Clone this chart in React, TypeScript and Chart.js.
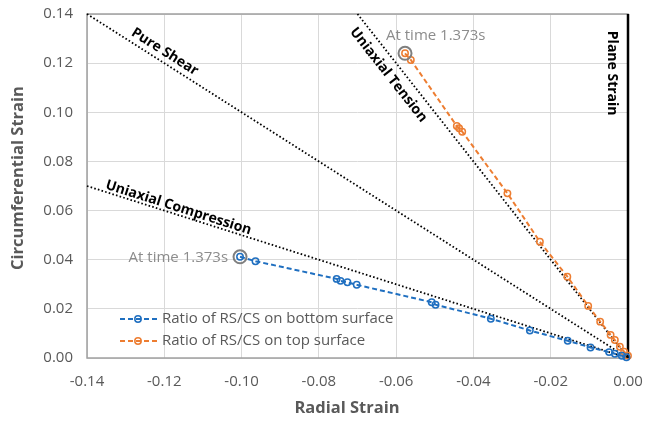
import React, { useEffect, useRef } from "react";
import { Chart, registerables } from "chart.js";

Chart.register(...registerables);

// ---- data ----
const xTickValues = [-0.14, -0.12, -0.1, -0.08, -0.06, -0.04, -0.02, 0];
const yTickValues = [0, 0.02, 0.04, 0.06, 0.08, 0.1, 0.12, 0.14];

const bottomRadial = [-0.1004, -0.0964, -0.0754, -0.0744, -0.0726, -0.0702, -0.0508, -0.0498, -0.0355, -0.0254, -0.0156, -0.0097, -0.0049, -0.0034, -0.0016, -0.0004];
const bottomCircum = [0.0412, 0.0394, 0.0322, 0.0314, 0.0308, 0.0298, 0.0227, 0.0217, 0.016, 0.0112, 0.007, 0.0043, 0.0024, 0.0017, 0.0009, 0.0003];

const topRadial = [-0.0577, -0.0562, -0.0443, -0.0437, -0.0429, -0.0312, -0.0228, -0.0157, -0.0103, -0.0072, -0.0045, -0.0034, -0.0021, -0.001, 0.0];
const topCircum = [0.124, 0.1213, 0.0944, 0.0935, 0.0921, 0.067, 0.0473, 0.0331, 0.0212, 0.0148, 0.0094, 0.0073, 0.0046, 0.0026, 0.0009];

const pureShearRadial = [-0.14, 0];
const pureShearCircum = [0.14, 0];
const uniCompRadial = [-0.14, 0];
const uniCompCircum = [0.07, 0];
const uniTensRadial = [-0.07, 0];
const uniTensCircum = [0.14, 0];
const planeStrainRadial = [0, 0];
const planeStrainCircum = [0.14, 0];

const seriesLabels = ["Ratio of RS/CS on bottom surface", "Ratio of RS/CS on top surface"];
const timeLabel = "At time 1.373s";

const BLUE = "#1f6fc0";
const ORANGE = "#ed7d31";
const GRAY_TEXT = "#595959";
const FONT = "'Open Sans', 'Noto Sans', sans-serif";

const pts = (xs: number[], ys: number[]) => xs.map((x, i) => ({ x, y: ys[i] }));

// line labels: which line, fraction along it, perpendicular pixel offset
const lineLabels = [
  { text: "Pure Shear", xs: pureShearRadial, ys: pureShearCircum, t: 0.134, d: 9.8 },
  { text: "Uniaxial Compression", xs: uniCompRadial, ys: uniCompCircum, t: 0.165, d: 7 },
  { text: "Uniaxial Tension", xs: uniTensRadial, ys: uniTensCircum, t: 0.153, d: -13.3 },
  { text: "Plane Strain", xs: planeStrainRadial, ys: planeStrainCircum, t: 0.172, d: -16 },
];

const annotatePlugin = {
  id: "annotate",
  beforeDatasetsDraw(chart: any) {
    const { ctx, chartArea: a } = chart;
    ctx.save();
    ctx.strokeStyle = "#a0a0a0";
    ctx.lineWidth = 1.5;
    ctx.strokeRect(a.left, a.top, a.right - a.left, a.bottom - a.top);
    ctx.restore();
  },
  afterDatasetsDraw(chart: any) {
    const { ctx, scales } = chart;
    const xs = scales.x;
    const ys = scales.y;
    ctx.save();

    // line labels
    ctx.fillStyle = "#000";
    ctx.font = `bold 14px ${FONT}`;
    ctx.textAlign = "center";
    ctx.textBaseline = "middle";
    for (const L of lineLabels) {
      const px0 = xs.getPixelForValue(L.xs[0]);
      const py0 = ys.getPixelForValue(L.ys[0]);
      const px1 = xs.getPixelForValue(L.xs[1]);
      const py1 = ys.getPixelForValue(L.ys[1]);
      const ang = Math.atan2(py1 - py0, px1 - px0);
      const cx = px0 + L.t * (px1 - px0) + L.d * Math.sin(ang);
      const cy = py0 + L.t * (py1 - py0) - L.d * Math.cos(ang);
      ctx.save();
      ctx.translate(cx, cy);
      ctx.rotate(ang);
      ctx.fillText(L.text, 0, 0);
      ctx.restore();
    }

    // highlight rings + time labels
    const bx = xs.getPixelForValue(bottomRadial[0]);
    const by = ys.getPixelForValue(bottomCircum[0]);
    const tx = xs.getPixelForValue(topRadial[0]);
    const ty = ys.getPixelForValue(topCircum[0]);
    ctx.strokeStyle = "#7f7f7f";
    ctx.lineWidth = 2;
    for (const [px, py] of [[bx, by], [tx, ty]]) {
      ctx.beginPath();
      ctx.arc(px, py, 6.5, 0, Math.PI * 2);
      ctx.stroke();
    }
    ctx.fillStyle = "#8c8c8c";
    ctx.font = `15px ${FONT}`;
    ctx.textBaseline = "middle";
    ctx.textAlign = "right";
    ctx.fillText(timeLabel, bx - 12, by + 0.5);
    ctx.textAlign = "left";
    ctx.fillText(timeLabel, tx - 19, ty - 18);

    // legend
    const colors = [BLUE, ORANGE];
    const legendY = [319, 341];
    ctx.font = `15px ${FONT}`;
    for (let i = 0; i < 2; i++) {
      const y = legendY[i];
      ctx.strokeStyle = colors[i];
      ctx.lineWidth = 2;
      ctx.setLineDash([5, 3]);
      ctx.beginPath();
      ctx.moveTo(120, y);
      ctx.lineTo(158, y);
      ctx.stroke();
      ctx.setLineDash([]);
      ctx.lineWidth = 1.5;
      ctx.beginPath();
      ctx.arc(138, y, 3.2, 0, Math.PI * 2);
      ctx.stroke();
      ctx.fillStyle = GRAY_TEXT;
      ctx.textAlign = "left";
      ctx.fillText(seriesLabels[i], 162, y);
    }

    ctx.restore();
  },
  afterDraw(chart: any) {
    const { ctx } = chart;
    ctx.save();
    ctx.fillStyle = GRAY_TEXT;
    ctx.font = `bold 16.5px ${FONT}`;
    ctx.textAlign = "center";
    ctx.textBaseline = "middle";
    ctx.fillText("Radial Strain", 347, 408);
    ctx.translate(18, 178);
    ctx.rotate(-Math.PI / 2);
    ctx.fillText("Circumferential Strain", 0, 0);
    ctx.restore();
  },
};

const fmt = (v: any) => {
  const n = Number(v);
  return Math.abs(n) < 1e-9 ? "0.00" : n.toFixed(2);
};

export default function App() {
  const ref = useRef<HTMLCanvasElement | null>(null);
  useEffect(() => {
    if (!ref.current) return;
    const refLine = (label: string, xsArr: number[], ysArr: number[]) => ({
      label,
      data: pts(xsArr, ysArr),
      showLine: true,
      borderColor: "#000",
      borderWidth: 1.8,
      borderDash: [1.6, 2.2],
      pointRadius: 0,
      order: 5,
      clip: false as any,
    });
    const series = (label: string, xsArr: number[], ysArr: number[], color: string) => ({
      label,
      data: pts(xsArr, ysArr),
      showLine: true,
      borderColor: color,
      borderWidth: 2,
      borderDash: [5, 3],
      pointRadius: 3.2,
      pointBorderWidth: 1.5,
      pointBorderColor: color,
      pointBackgroundColor: "rgba(255,255,255,0)",
      order: 1,
      clip: false as any,
    });
    const chart = new Chart(ref.current, {
      type: "scatter",
      data: {
        datasets: [
          series(seriesLabels[0], bottomRadial, bottomCircum, BLUE),
          series(seriesLabels[1], topRadial, topCircum, ORANGE),
          refLine("Pure Shear", pureShearRadial, pureShearCircum),
          refLine("Uniaxial Compression", uniCompRadial, uniCompCircum),
          refLine("Uniaxial Tension", uniTensRadial, uniTensCircum),
          {
            label: "Plane Strain",
            data: pts(planeStrainRadial, planeStrainCircum),
            showLine: true,
            borderColor: "#000",
            borderWidth: 2.5,
            pointRadius: 0,
            order: 4,
            clip: false as any,
          },
        ],
      },
      options: {
        responsive: false,
        animation: false,
        devicePixelRatio: 1,
        layout: { padding: { left: 0, right: 18, top: 14, bottom: 0 }, autoPadding: false },
        plugins: { legend: { display: false }, tooltip: { enabled: false } },
        scales: {
          x: {
            type: "linear",
            min: -0.14,
            max: 0,
            afterBuildTicks: (s: any) => {
              s.ticks = xTickValues.map((v) => ({ value: v }));
            },
            afterFit: (s: any) => {
              s.height = 63;
            },
            ticks: {
              padding: 0,
              color: GRAY_TEXT,
              font: { family: FONT, size: 15 },
              callback: fmt,
              maxRotation: 0,
            },
            grid: { color: "#d9d9d9", lineWidth: 1, drawTicks: true, tickLength: 15, tickColor: "rgba(0,0,0,0)" },
            border: { display: false },
          },
          y: {
            type: "linear",
            min: 0,
            max: 0.14,
            afterBuildTicks: (s: any) => {
              s.ticks = yTickValues.map((v) => ({ value: v }));
            },
            afterFit: (s: any) => {
              s.width = 87;
            },
            ticks: {
              padding: 0,
              color: GRAY_TEXT,
              font: { family: FONT, size: 15 },
              callback: fmt,
            },
            grid: { color: "#d9d9d9", lineWidth: 1, drawTicks: true, tickLength: 14, tickColor: "rgba(0,0,0,0)" },
            border: { display: false },
          },
        },
      } as any,
      plugins: [annotatePlugin],
    });
    return () => chart.destroy();
  }, []);
  return (
    <div style={{ position: "absolute", left: 0, top: 0, width: 646, height: 421, background: "#fff" }}>
      <canvas ref={ref} width={646} height={421} />
    </div>
  );
}
